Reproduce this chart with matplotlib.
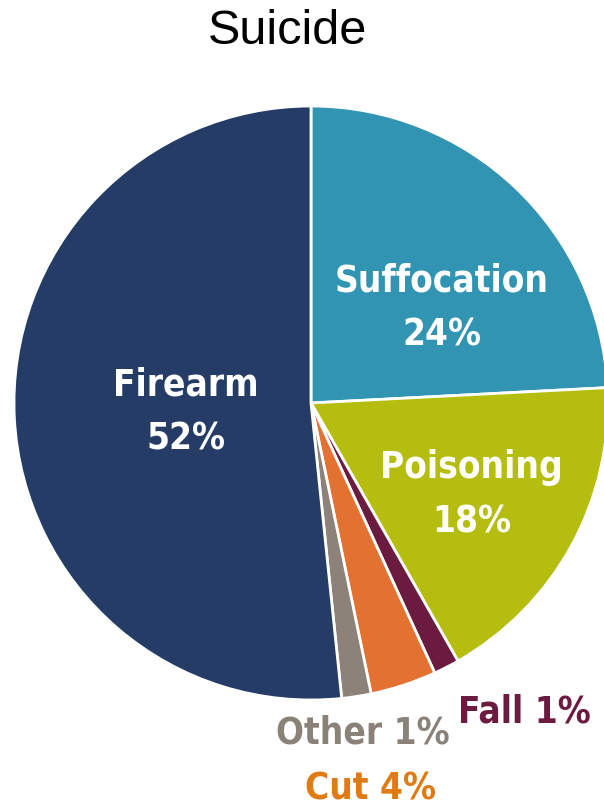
import matplotlib
matplotlib.use('Agg')
import matplotlib.pyplot as plt

# slices, clockwise from 12 o'clock
categories = ['Suffocation', 'Poisoning', 'Fall', 'Cut', 'Other', 'Firearm']
shares = [24.2, 17.6, 1.4, 3.6, 1.6, 51.7]
labels = ['Suffocation\n24%', 'Poisoning\n18%', 'Fall 1%', 'Cut 4%', 'Other 1%', 'Firearm\n52%']
colors = ['#3194B3', '#B5BD0E', '#6B1A40', '#E37232', '#8C8279', '#253D66']
label_colors = ['white', 'white', '#6B1A40', '#E07A12', '#8A8178', 'white']
label_pos = [(0.44, 0.32), (0.54, -0.31), (0.72, -1.04), (0.20, -1.30), (0.175, -1.11), (-0.42, -0.03)]

fig = plt.figure(figsize=(6.04, 8.11), dpi=100)
ax = fig.add_axes([14/604, 111/811, 594/604, 594/811])
ax.pie(shares, colors=colors, startangle=90, counterclock=False, radius=1,
       wedgeprops=dict(edgecolor='white', linewidth=2))
ax.set_xlim(-1, 1)
ax.set_ylim(-1, 1)
ax.set_aspect('equal')
ax.axis('off')

for lab, (x, y), c in zip(labels, label_pos, label_colors):
    ax.text(x, y, lab, ha='center', va='center', color=c, fontsize=26.5,
            fontweight='bold', fontstretch='condensed', linespacing=1.6,
            family=['DejaVu Sans'], clip_on=False)

fig.text(288/604, 1 - 31/811, 'Suicide', ha='center', va='center', fontsize=35,
         family=['Liberation Sans', 'DejaVu Sans'])

plt.savefig('out.png', dpi=100)
